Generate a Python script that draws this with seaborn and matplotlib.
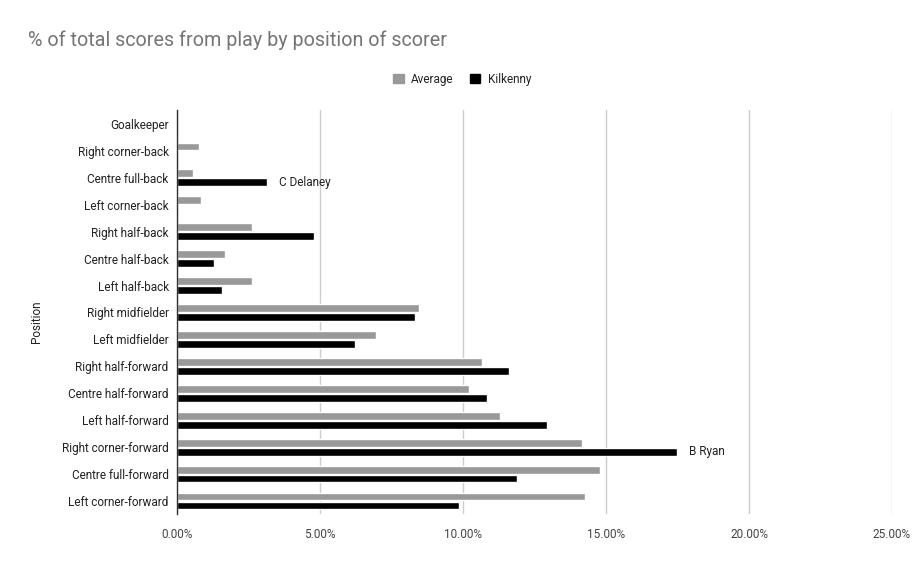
import pandas as pd
import matplotlib
matplotlib.use("Agg")
import matplotlib.pyplot as plt
import seaborn as sns

# values (percent of total scores from play)
positions = [
    "Goalkeeper", "Right corner-back", "Centre full-back", "Left corner-back",
    "Right half-back", "Centre half-back", "Left half-back", "Right midfielder",
    "Left midfielder", "Right half-forward", "Centre half-forward",
    "Left half-forward", "Right corner-forward", "Centre full-forward",
    "Left corner-forward",
]
average = [0.0, 0.78, 0.57, 0.83, 2.61, 1.69, 2.61, 8.45, 6.95, 10.68, 10.22,
           11.31, 14.17, 14.80, 14.28]
kilkenny = [0.0, 0.0, 3.14, 0.0, 4.78, 1.31, 1.59, 8.31, 6.21, 11.62, 10.85,
            12.95, 17.48, 11.90, 9.87]
series = ["Average", "Kilkenny"]
notes = {"Centre full-back": "C Delaney", "Right corner-forward": "B Ryan"}
xticks = [0, 5, 10, 15, 20, 25]


def build_frame():
    df = pd.DataFrame({"Position": positions, "Average": average,
                       "Kilkenny": kilkenny})
    return df.melt(id_vars="Position", var_name="Series", value_name="Share")


def plot_chart(df):
    sns.set_style("white")
    plt.rcParams["font.family"] = ["Roboto", "DejaVu Sans"]

    fig = plt.figure(figsize=(9.21, 5.69), dpi=100)
    ax = fig.add_axes([0.1922, 0.0958, 0.7763, 0.7100])

    sns.barplot(
        data=df, x="Share", y="Position", hue="Series",
        order=positions, hue_order=series,
        palette={"Average": "#999999", "Kilkenny": "#000000"},
        width=0.66, gap=0.12, legend=False, ax=ax,
    )

    ax.set_xlim(0, 25)
    ax.set_ylim(len(positions) - 0.5, -0.5)
    ax.set_xticks(xticks)
    ax.set_xticklabels([f"{t:.2f}%" for t in xticks], color="#444444",
                       fontsize=8.5)
    ax.tick_params(axis="y", labelsize=8.5, labelcolor="#222222", length=0,
                   pad=6)
    ax.tick_params(axis="x", length=0, pad=10)
    ax.xaxis.grid(True, color="#cccccc", linewidth=1)
    ax.set_axisbelow(True)
    for side in ["top", "right", "bottom"]:
        ax.spines[side].set_visible(False)
    ax.spines["left"].set_color("#333333")
    ax.spines["left"].set_linewidth(1)

    ax.set_xlabel("")
    ax.set_ylabel("Position", fontsize=8.5, color="#222222")
    ax.yaxis.set_label_coords(-0.187, 0.478)

    # player annotations next to the Kilkenny bars
    for pos, name in notes.items():
        i = positions.index(pos)
        val = kilkenny[i]
        ax.text(val + 0.42, i + 0.165, name, va="center", ha="left",
                fontsize=8.5, color="#222222")

    fig.text(28 / 921, 1 - 40 / 569, "% of total scores from play by position of scorer",
             fontsize=14.2, color="#757575", va="center", ha="left")

    handles = [plt.Rectangle((0, 0), 1, 1, color="#999999"),
               plt.Rectangle((0, 0), 1, 1, color="#000000")]
    fig.legend(handles, series, loc="center", bbox_to_anchor=(462 / 921, 1 - 79 / 569),
               ncol=2, frameon=False, fontsize=8.5, handlelength=0.9,
               handleheight=0.9, handletextpad=0.6, columnspacing=1.4,
               labelcolor="#222222")

    fig.savefig("out.png", dpi=100)


if __name__ == "__main__":
    plot_chart(build_frame())
